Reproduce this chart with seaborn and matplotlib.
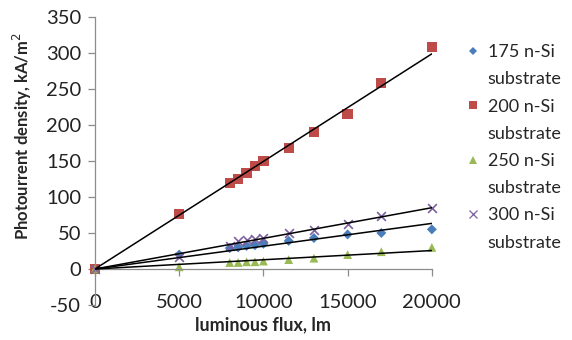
import numpy as np
import pandas as pd
import matplotlib
matplotlib.use("Agg")
import matplotlib.pyplot as plt
from matplotlib.lines import Line2D
import seaborn as sns

# Luminous flux (lm) and photocurrent density (kA/m2) per substrate
flux = [0, 5000, 8000, 8500, 9000, 9500, 10000, 11500, 13000, 15000, 17000, 20000]
si175 = [0, 20, 29, 30, 32, 33, 35, 39, 43, 48, 50, 55]
si200 = [0, 76, 119, 125, 133, 143, 150, 168, 190, 215, 258, 308]
si250 = [0, 3, 9, 9, 10, 10, 11, 13, 15, 20, 24, 30]
si300 = [0, 16, 32, 39, 40, 41, 43, 50, 54, 62, 74, 85]

names = ['175 n-Si', '200 n-Si', '250 n-Si', '300 n-Si']
colors = ['#4A7EBB', '#BE4B48', '#98B954', '#7D60A0']
markers = ['D', 's', '^', 'x']
sizes = [26, 55, 40, 40]

df = pd.DataFrame({'flux': flux, names[0]: si175, names[1]: si200,
                   names[2]: si250, names[3]: si300})

sns.set_theme(style='white')
plt.rcParams['font.family'] = ['Lato', 'DejaVu Sans']
plt.rcParams['axes.unicode_minus'] = False

fig = plt.figure(figsize=(5.72, 3.4), dpi=100)
ax = fig.add_axes([0.166, 0.103, 0.589, 0.847])

x = df['flux'].to_numpy(float)
handles, texts = [], []
for name, c, m, s in zip(names, colors, markers, sizes):
    kw = {'s': s, 'color': c, 'marker': m, 'zorder': 2, 'clip_on': False, 'legend': False}
    if m != 'x':
        kw['edgecolor'] = 'none'
    else:
        kw['linewidths'] = 1.2
    sns.scatterplot(data=df, x='flux', y=name, ax=ax, **kw)
    # linear trendline forced through the origin
    y = df[name].to_numpy(float)
    slope = (x * y).sum() / (x * x).sum()
    xs = np.array([x.min(), x.max()])
    ax.plot(xs, slope * xs, color='black', lw=1.1, zorder=3)

    handles.append(Line2D([], [], ls='none', marker=m, color=c, markersize=4.5 if m == 'D' else 6,
                          markeredgewidth=0.9 if m == 'x' else 0))
    texts.append(name)
    handles.append(Line2D([], [], ls='none'))
    texts.append('substrate')

ax.set_xlim(0, 20000)
ax.set_ylim(-50, 350)
ax.set_xticks([0, 5000, 10000, 15000, 20000])
ax.set_yticks(np.arange(-50, 351, 50))

axis_gray = '#8C8C8C'
for side in ['top', 'right']:
    ax.spines[side].set_visible(False)
ax.spines['left'].set_color(axis_gray)
ax.spines['bottom'].set_color(axis_gray)
ax.spines['bottom'].set_position(('data', 0))
ax.spines['left'].set_linewidth(0.9)
ax.spines['bottom'].set_linewidth(0.9)

ax.tick_params(axis='y', direction='out', length=5, width=0.9, color=axis_gray,
               labelsize=14.5, pad=5, labelcolor='#222222', left=True)
ax.tick_params(axis='x', direction='out', length=5, width=0.9, color=axis_gray,
               labelsize=14.5, pad=13, labelcolor='#222222', bottom=True)

ax.set_xlabel('luminous flux, lm', fontsize=13, fontweight='bold')
ax.set_ylabel('Photourrent density, kA/m$^2$', fontsize=12, fontweight='bold')
ax.xaxis.set_label_coords(0.5, -0.04)
ax.yaxis.set_label_coords(-0.18, 0.585)
ax.grid(False)

ax.legend(handles, texts, loc='upper left', bbox_to_anchor=(0.818, 0.87),
          bbox_transform=fig.transFigure, frameon=False, fontsize=13,
          handlelength=0.6, handletextpad=0.5, labelspacing=0.62, borderaxespad=0,
          borderpad=0)

fig.savefig('out.png', dpi=100)
